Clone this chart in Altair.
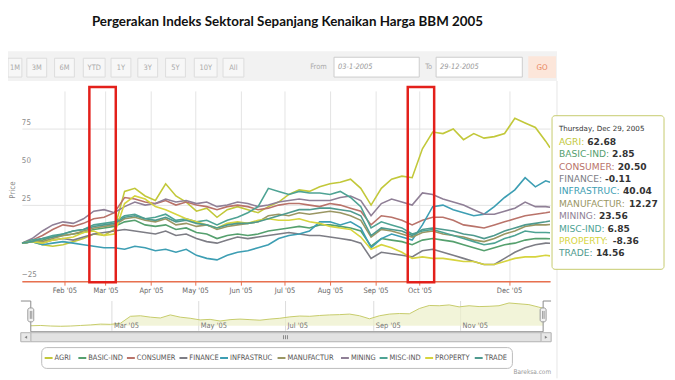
import altair as alt
import pandas as pd

# ---------------- data ----------------
dates = ["2005-01-03", "2005-01-10", "2005-01-17", "2005-01-24", "2005-01-31", "2005-02-07",
         "2005-02-14", "2005-02-21", "2005-02-28", "2005-03-07", "2005-03-14", "2005-03-21",
         "2005-03-28", "2005-04-04", "2005-04-11", "2005-04-18", "2005-04-25", "2005-05-02",
         "2005-05-09", "2005-05-16", "2005-05-23", "2005-05-30", "2005-06-06", "2005-06-13",
         "2005-06-20", "2005-06-27", "2005-07-04", "2005-07-11", "2005-07-18", "2005-07-25",
         "2005-08-01", "2005-08-08", "2005-08-15", "2005-08-22", "2005-08-29", "2005-09-05",
         "2005-09-12", "2005-09-19", "2005-09-26", "2005-10-03", "2005-10-10", "2005-10-17",
         "2005-10-24", "2005-10-31", "2005-11-07", "2005-11-14", "2005-11-21", "2005-11-28",
         "2005-12-05", "2005-12-12", "2005-12-19", "2005-12-26", "2005-12-29"]

names = ["AGRI", "BASIC-IND", "CONSUMER", "FINANCE", "INFRASTRUC",
         "MANUFACTUR", "MINING", "MISC-IND", "PROPERTY", "TRADE"]

agri = [0, 1, -1, -2, -1, 1, 3, 6, 5, 9, 34, 36, 31, 28, 39, 31, 27, 21, 23, 17, 22, 24, 22, 20,
        24, 27, 32, 35, 34, 37, 39, 40, 42, 36, 25, 36, 42, 44, 43, 62, 73, 72, 75, 68, 72, 69,
        70, 72, 82, 79, 76, 67, 62.68]
basic_ind = [0, 1, 2, 4, 5, 6, 7, 9, 10, 11, 14, 15, 12, 11, 12, 9, 10, 7, 6, 3, 5, 6, 5, 6,
             8, 9, 10, 11, 10, 12, 12, 11, 10, 8, -2, 3, 2, 1, -1, 2, 3, 2, 1, -1, -3, -5,
             -3, -1, 0, 2, 3, 3, 2.85]
consumer = [0, 2, 5, 9, 12, 11, 13, 16, 17, 20, 30, 29, 27, 26, 28, 25, 27, 25, 24, 22, 24, 25,
            24, 22, 23, 25, 26, 26, 25, 24, 26, 25, 23, 21, 12, 18, 17, 15, 12, 15, 17, 17, 15,
            12, 11, 10, 12, 14, 16, 18, 19, 20, 20.50]
finance = [0, 1, 0, 2, 3, 2, 4, 6, 7, 8, 9, 8, 7, 6, 8, 5, 6, 3, 1, 0, 2, 4, 3, 4, 5, 6, 7, 6,
           5, 5, 4, 3, 2, 0, -10, -6, -7, -8, -9, -5, -4, -6, -8, -10, -12, -14, -14, -10, -6,
           -3, -1, 0, -0.11]
infrastruc = [0, 1, -1, 0, 1, 0, -1, -2, -3, -3, -4, -2, -3, -5, -4, -6, -4, -8, -10, -11, -8,
              -6, -5, -3, -1, 3, 5, 6, 8, 14, 14, 12, 14, 10, -3, 3, 6, 4, 2, 12, 24, 25, 22,
              20, 18, 19, 24, 30, 35, 43, 37, 41, 40.04]
manufactur = [0, 2, 1, 3, 5, 6, 8, 10, 11, 12, 16, 17, 15, 14, 16, 12, 13, 11, 12, 9, 11, 12,
              13, 14, 18, 19, 18, 20, 19, 20, 21, 20, 18, 15, 4, 9, 8, 6, 4, 7, 8, 6, 5, 4, 2,
              1, 3, 6, 8, 11, 12, 12, 12.27]
mining = [0, 3, 8, 12, 14, 13, 16, 21, 22, 20, 24, 27, 25, 26, 29, 27, 28, 26, 27, 24, 25, 27,
          26, 24, 25, 27, 28, 29, 28, 28, 28, 30, 31, 28, 18, 26, 29, 27, 25, 33, 32, 29, 27,
          25, 22, 19, 19, 21, 23, 27, 24, 24, 23.56]
misc_ind = [0, 2, 3, 5, 6, 8, 9, 12, 13, 14, 18, 19, 16, 17, 19, 15, 16, 14, 15, 12, 15, 17,
            20, 24, 36, 34, 32, 34, 33, 33, 32, 34, 30, 24, 10, 14, 12, 10, 6, 8, 9, 7, 5, 3,
            1, -1, 0, 3, 5, 8, 7, 7, 6.85]
prop = [0, 1, 0, 2, 3, 4, 7, 8, 5, 6, 26, 31, 29, 24, 22, 19, 16, 14, 12, 10, 13, 14, 13, 15,
        16, 15, 15, 16, 14, 13, 11, 10, 9, 4, -4, -1, -3, -6, -10, -9, -10, -10, -11, -12, -12,
        -14, -14, -12, -10, -9, -9, -8, -8.36]
trade = [0, 1, 3, 4, 6, 8, 9, 11, 12, 13, 17, 18, 16, 15, 17, 14, 15, 13, 12, 10, 12, 13, 13,
         14, 16, 18, 20, 22, 22, 23, 23, 22, 21, 18, 5, 10, 9, 8, 5, 9, 10, 9, 8, 6, 5, 3, 5,
         8, 10, 12, 13, 14, 14.56]

last_values = ["62.68", "2.85", "20.50", "-0.11", "40.04", "12.27", "23.56", "6.85", "-8.36", "14.56"]
tooltip_date = "Thursday, Dec 29, 2005"
title_text = "Pergerakan Indeks Sektoral Sepanjang Kenaikan Harga BBM 2005"

colors = ["#c2c83a", "#55a06e", "#b9736a", "#7d7d85", "#3d9eb3",
          "#9a9663", "#8f7f96", "#4ea394", "#d6d43e", "#4f9a8e"]

axis_months = [2, 3, 4, 5, 6, 7, 8, 9, 10, 12]
nav_months = [3, 5, 7, 9, 11]
buttons = ["1M", "3M", "6M", "YTD", "1Y", "3Y", "5Y", "10Y", "All"]
box_starts = ["2005-02-18", "2005-09-23"]
box_ends = ["2005-03-08", "2005-10-11"]
from_text, to_text = "03-1-2005", "29-12-2005"

# ---------------- tables ----------------
series_values = [agri, basic_ind, consumer, finance, infrastruc, manufactur, mining, misc_ind, prop, trade]
rows = []
for n, vals in zip(names, series_values):
    for d, v in zip(dates, vals):
        rows.append({"date": pd.Timestamp(d), "series": n, "value": v})
df = pd.DataFrame(rows)
agri_df = df[df["series"] == "AGRI"]

# ---------------- layout helpers (page pixel coords) ----------------
OX, OY = 22, 90
W, H = 533, 192
COND = "DejaVu Sans Condensed, DejaVu Sans, sans-serif"
DJ = "DejaVu Sans, Verdana, sans-serif"
one = pd.DataFrame({"k": [0]})


def rect(x0, y0, x1, y1, **kw):
    return alt.Chart(one).mark_rect(**kw).encode(
        x=alt.value(x0 - OX), x2=alt.value(x1 - OX), y=alt.value(y0 - OY), y2=alt.value(y1 - OY))


def rule(x0, y0, x1, y1, **kw):
    return alt.Chart(one).mark_rule(**kw).encode(
        x=alt.value(x0 - OX), x2=alt.value(x1 - OX), y=alt.value(y0 - OY), y2=alt.value(y1 - OY))


def text(x, y, s, **kw):
    return alt.Chart(one).mark_text(text=s, **kw).encode(x=alt.value(x - OX), y=alt.value(y - OY))


WID = {"A": .684, "B": .686, "C": .698, "D": .770, "E": .632, "F": .575, "G": .775, "H": .752,
       "I": .295, "J": .295, "K": .656, "L": .557, "M": .863, "N": .748, "O": .787, "P": .603,
       "Q": .787, "R": .695, "S": .635, "T": .611, "U": .732, "V": .684, "W": .989, "X": .685,
       "Y": .611, "Z": .685, ":": .337, "-": .361, " ": .318}


def tw(s, size):
    return sum(WID.get(c, 0.6) for c in s) * size


d0 = alt.DateTime(year=2005, month=1, date=3)
d1 = alt.DateTime(year=2005, month=12, date=29)

# ---------------- main plot ----------------
x_scale = alt.Scale(domain=[d0, d1])
y_scale = alt.Scale(domain=[-25, 100], nice=False, zero=False)

lines = alt.Chart(df).mark_line(strokeWidth=1.6, clip=True).encode(
    x=alt.X("date:T", scale=x_scale, axis=alt.Axis(
        values=[alt.DateTime(year=2005, month=m, date=1) for m in axis_months],
        format="%b '%y", grid=True, gridColor="#e4e4e4", domainColor="#e8704f", domainWidth=1.5,
        tickColor="#e8704f", tickSize=4, labelFont=COND, labelFontSize=7.5, labelColor="#666",
        labelPadding=1, title=None, labelOverlap=False, labelFlush=False)),
    y=alt.Y("value:Q", scale=y_scale, axis=alt.Axis(
        values=[-25, 0, 25, 50, 75, 100], grid=True, gridColor="#e4e4e4", labels=False,
        ticks=False, domain=False, title=None)),
    color=alt.Color("series:N", scale=alt.Scale(domain=names, range=colors), legend=None),
)

ylab = alt.Chart(pd.DataFrame({"v": [75, 50, 25, -25]})).mark_text(
    align="left", baseline="bottom", dy=-2, fontSize=8, font=COND, color="#888").encode(
    x=alt.value(0), y=alt.Y("v:Q", scale=y_scale), text="v:Q")

boxes = alt.Chart(pd.DataFrame({"s": pd.to_datetime(box_starts), "e": pd.to_datetime(box_ends)})).mark_rect(
    fillOpacity=0, stroke="#e3201b", strokeWidth=2.5).encode(
    x=alt.X("s:T", scale=x_scale), x2="e:T", y=alt.value(-4), y2=alt.value(193))

main = alt.layer(lines, ylab, boxes)

# ---------------- navigator ----------------
nav_x = alt.Scale(domain=[d0, d1], range=[31 - OX, 548 - OX])
nav_y = alt.Scale(domain=[-18, 89], range=[332 - OY, 302 - OY], nice=False, zero=False)
nav_df = pd.DataFrame({"d": [pd.Timestamp(2005, m, 1) for m in nav_months]})

nav_grid = alt.Chart(nav_df).mark_rule(color="#dcdcdc").encode(
    x=alt.X("d:T", scale=nav_x, axis=None), y=alt.value(302 - OY), y2=alt.value(332 - OY))
nav_area = alt.Chart(agri_df).mark_area(
    color="#edf0c9", line={"color": "#c6cb6a", "strokeWidth": 1}).encode(
    x=alt.X("date:T", scale=nav_x, axis=None), y=alt.Y("value:Q", scale=nav_y, axis=None),
    y2=alt.value(332 - OY))
nav_lab = alt.Chart(nav_df).mark_text(
    align="left", baseline="middle", dx=2, fontSize=7.5, font=COND, color="#777").encode(
    x=alt.X("d:T", scale=nav_x, axis=None), y=alt.value(327 - OY),
    text=alt.Text("d:T", format="%b '%y"))
nav = alt.layer(nav_grid, nav_area, nav_lab)

# ---------------- decorations ----------------
deco = []
deco.append(text(290, 20, title_text, font="Lato, Open Sans, sans-serif", fontWeight="bold",
                 fontSize=13.5, color="#111", align="center", baseline="middle"))
# toolbar
deco.append(rect(8, 50, 562, 80, fill="#f2f2f2"))
bx = [(8, 22), (27, 47), (55, 75), (84, 106), (112, 132), (139, 159), (167, 187), (196, 219), (225, 246)]
for lab, (a, b) in zip(buttons, bx):
    deco.append(rect(a, 57, b, 76, fill="#f7f7f7", stroke="#dddddd", strokeWidth=1))
    deco.append(text((a + b) / 2, 66.5, lab, fontSize=7.5, font=COND, color="#aaa",
                     align="center", baseline="middle"))
deco.append(text(313, 66, "From", fontSize=7.5, font=COND, color="#aaa", align="left", baseline="middle"))
deco.append(rect(337, 56, 423, 76, fill="white", stroke="#cccccc"))
deco.append(text(341, 66, from_text, fontSize=7.5, font=COND, fontStyle="italic", color="#999",
                 align="left", baseline="middle"))
deco.append(text(429, 66, "To", fontSize=7.5, font=COND, color="#aaa", align="left", baseline="middle"))
deco.append(rect(440, 56, 527, 76, fill="white", stroke="#cccccc"))
deco.append(text(444, 66, to_text, fontSize=7.5, font=COND, fontStyle="italic", color="#999",
                 align="left", baseline="middle"))
deco.append(rect(533, 55, 561, 77, fill="#fce6da"))
deco.append(text(547, 66.5, "GO", fontSize=8, font=COND, color="#e8845a", align="center", baseline="middle"))
deco.append(rule(562, 80, 562, 380, color="#e6e6e6"))
# y title
deco.append(text(13, 190, "Price", angle=270, fontSize=8, font=COND, color="#888",
                 align="center", baseline="middle"))
# navigator outline + handles
for seg in [(21, 302, 31, 302), (31, 302, 31, 333), (31, 333, 548, 333), (548, 302, 548, 333), (548, 302, 556, 302)]:
    deco.append(rule(*seg, color="#8a8a8a", strokeWidth=1))
for hx in (28, 545):
    deco.append(rect(hx, 309, hx + 6, 323, fill="#f2f2f2", stroke="#999", strokeWidth=1, cornerRadius=2))
    deco.append(rule(hx + 2.5, 312, hx + 2.5, 320, color="#999"))
    deco.append(rule(hx + 4, 312, hx + 4, 320, color="#999"))
# scrollbar
deco.append(rect(21, 334, 556, 343, fill="#ececec", stroke="#bbbbbb", strokeWidth=1))
deco.append(rect(31, 334, 546, 343, fill="#e2e2e2", stroke="#bbbbbb", strokeWidth=1))
for gx in (286, 288, 290):
    deco.append(rule(gx, 336.5, gx, 340.5, color="#888"))
deco.append(rect(21, 334, 31, 343, fill="#e8e8e8", stroke="#bbbbbb", strokeWidth=1))
deco.append(rect(546, 334, 556, 343, fill="#e8e8e8", stroke="#bbbbbb", strokeWidth=1))
deco.append(alt.Chart(one).mark_point(shape="triangle-left", size=9, filled=True, color="#555").encode(
    x=alt.value(26 - OX), y=alt.value(338.5 - OY)))
deco.append(alt.Chart(one).mark_point(shape="triangle-right", size=9, filled=True, color="#555").encode(
    x=alt.value(551 - OX), y=alt.value(338.5 - OY)))
# legend
deco.append(rect(42, 349, 517, 370, fill="white", stroke="#bbbbbb", strokeWidth=1, cornerRadius=5))
legend_x = [45, 79, 128, 181, 222, 280, 344, 383, 429, 479]
for lx, n, c in zip(legend_x, names, colors):
    deco.append(rule(lx, 359.5, lx + 8, 359.5, color=c, strokeWidth=2))
    deco.append(text(lx + 10, 360, n, fontSize=7.5, font=COND, color="#555", align="left", baseline="middle"))
deco.append(text(556, 374, "Bareksa.com", fontSize=6.5, font=COND, color="#999", align="right", baseline="middle"))
# tooltip
deco.append(rect(557, 115, 670, 270, fill="white", fillOpacity=0.92, stroke="#c5ca6e", strokeWidth=1, cornerRadius=3))
deco.append(text(564, 128.5, tooltip_date, fontSize=7.2, font=DJ, color="#333", align="left", baseline="middle"))
FS = 9.2
for i, (n, c, v) in enumerate(zip(names, colors, last_values)):
    yy = 141.5 + 12.5 * i
    deco.append(text(564, yy, n + ":", fontSize=FS, font=DJ, color=c, align="left", baseline="middle"))
    deco.append(text(564 + tw(n + ": ", FS), yy, v, fontSize=FS, font=DJ, fontWeight="bold",
                     color="#333", align="left", baseline="middle"))
ui = alt.layer(*deco)

chart = alt.layer(main, nav, ui).resolve_scale(x="independent", y="independent").properties(
    width=W, height=H,
    padding={"left": 14, "top": 82, "right": 118, "bottom": 98},
    autosize=alt.AutoSizeParams(type="none"),
    background="white",
).configure_view(stroke=None)

chart.save("out.html", embed_options={"renderer": "svg", "actions": False})
